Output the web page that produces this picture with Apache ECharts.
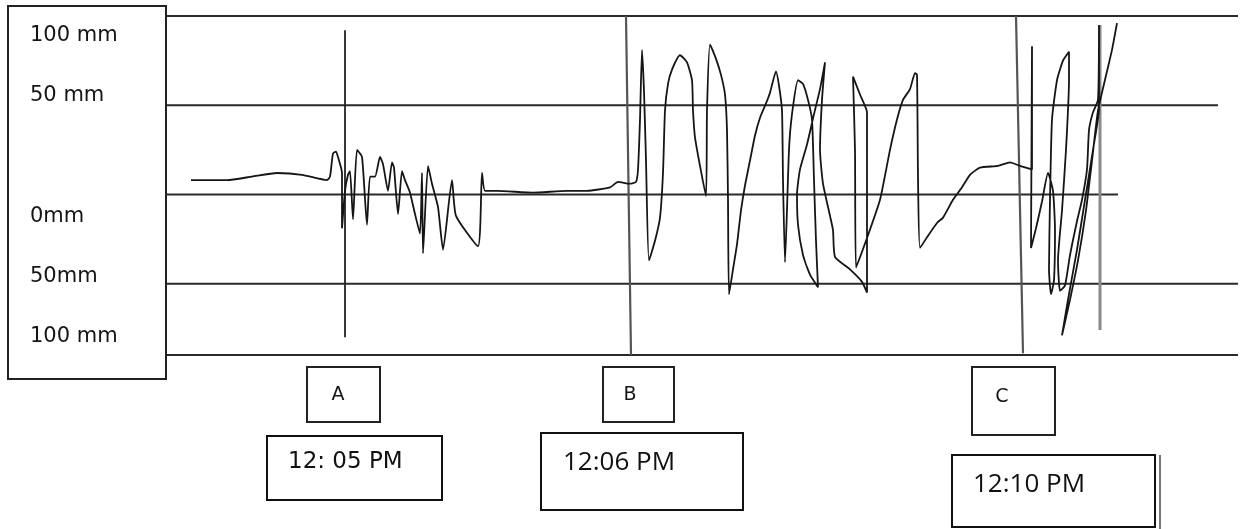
<!DOCTYPE html>
<html>
<head>
<meta charset="utf-8">
<script src="https://cdn.jsdelivr.net/npm/echarts@6/dist/echarts.min.js"></script>
<style>
html,body{margin:0;padding:0;background:#fff;}
#chart{width:1244px;height:529px;}
</style>
</head>
<body>
<div id="chart"></div>
<script>
// Scale labels shown in the left box (top to bottom)
const scaleLabels = ['100 mm', '50 mm', '0mm', '50mm', '100 mm'];
// Event markers and times
const eventNames = ['A', 'B', 'C'];
const eventTimes = ['12: 05 PM', '12:06 PM', '12:10 PM'];

// Horizontal reference levels (mm) and where each drawn line ends (time units)
const levelValues = [100, 50, 0, -50, -90];
const levelEnds = [1072, 1052, 952, 1072, 1072];

// Vertical marker lines: [t, mm] for top and bottom ends (A, B, C, right edge)
const markerTop = [[179, 92], [460, 100], [850, 100], [934, 95]];
const markerBottom = [[179, -80], [465, -90], [857, -89], [934, -76]];

// Recorded trace: [time units, displacement mm]
const traceQuiet = [
  [25, 8], [61, 8], [86, 10], [111, 12], [136, 11], [161, 8], [164, 10]
];
const traceA = [
  [167, 23], [170, 24], [172, 21], [176, 12], [176, -19], [179, 2], [182, 11], [184, 13],
  [187, -14], [191, 25], [196, 21], [201, -17], [204, 10], [209, 10], [214, 21], [217, 17],
  [222, 2], [226, 18], [228, 15], [232, -11], [236, 13], [239, 8], [244, 1], [249, -11],
  [254, -22], [256, 12], [257, -33], [262, 16], [266, 6], [272, -7], [277, -31], [286, 8],
  [290, -12], [312, -29], [316, 12], [319, 2]
];
const traceCalm = [
  [331, 2], [367, 1], [401, 2], [421, 2], [444, 4], [452, 7], [464, 6], [470, 7]
];
const traceB = [
  [472, 14], [474, 42], [476, 81], [478, 58], [480, 19], [483, -37], [489, -26], [494, -13],
  [497, 12], [499, 47], [502, 62], [506, 70], [514, 78], [521, 74], [526, 64], [527, 47],
  [529, 32], [534, 16], [540, -1], [541, 47], [544, 84], [550, 76], [555, 67], [559, 56],
  [561, 36], [562, -3], [563, -56], [567, -42], [571, -28], [575, -9], [579, 5], [584, 19],
  [589, 33], [594, 43], [600, 51], [604, 57], [610, 69], [613, 61], [616, 47], [617, 8],
  [619, -38], [623, 25], [626, 45], [632, 64], [637, 62], [642, 53], [646, 42], [648, 8],
  [650, -26], [652, -52], [644, -45], [637, -34], [632, -17], [631, 0], [634, 14], [641, 28],
  [648, 45], [654, 59], [659, 74], [656, 53], [654, 25], [657, 6], [664, -12], [667, -20],
  [669, -35], [684, -42], [696, -49], [701, -55], [701, 46], [694, 56], [687, 66], [689, 25],
  [690, -41], [700, -26], [714, -3], [724, 25], [731, 42], [737, 53], [744, 59], [749, 68],
  [751, 67], [752, 10], [754, -30], [761, -24], [771, -16], [777, -13], [787, -3], [796, 4],
  [804, 11], [814, 15], [832, 16], [844, 18], [854, 16], [866, 14]
];
const traceC = [
  [866, 83], [865, -30], [870, -19], [876, -4], [882, 12], [887, 2], [889, -20], [888, -48],
  [885, -56], [883, -42], [884, -3], [886, 42], [891, 64], [897, 75], [903, 80], [903, 64],
  [900, 25], [896, -9], [892, -37], [894, -54], [899, -51], [904, -34], [911, -15], [916, -3],
  [921, 14], [923, 36], [927, 46], [932, 53], [933, 95], [933, 48], [927, 25], [919, -3],
  [911, -31], [902, -59], [896, -79], [904, -59], [912, -37], [920, -9], [926, 19], [932, 47],
  [941, 69], [946, 81], [951, 96]
];

const trace = [].concat(traceQuiet, traceA, traceCalm, traceB, traceC);

const chart = echarts.init(document.getElementById('chart'), null, {renderer: 'canvas'});

const series = [];
levelValues.forEach(function (v, i) {
  series.push({
    type: 'line', data: [[0, v], [levelEnds[i], v]], symbol: 'none', silent: true,
    lineStyle: {color: '#2a2a2a', width: 2}, z: 1
  });
});
const markerColors = ['#222', '#555', '#555', '#8a8a8a'];
const markerWidths = [1.8, 2.2, 2.2, 3];
markerTop.forEach(function (p, i) {
  series.push({
    type: 'line', data: [p, markerBottom[i]], symbol: 'none', silent: true,
    lineStyle: {color: markerColors[i], width: markerWidths[i]}, z: 2
  });
});
series.push({
  type: 'line', data: trace, symbol: 'none', silent: true, smooth: 0.18,
  lineStyle: {color: '#151515', width: 1.8}, z: 3
});

const labelY = [36, 96, 217, 277, 337];
const graphic = [
  {type: 'rect', shape: {x: 8, y: 6, width: 158, height: 373}, style: {fill: 'none', stroke: '#222', lineWidth: 2}, z: 10}
];
scaleLabels.forEach(function (t, i) {
  graphic.push({type: 'text', x: 30, y: labelY[i], style: {text: t, font: '21px "DejaVu Sans"', fill: '#151515', verticalAlign: 'middle'}, z: 10});
});
// Event letter boxes
const letterBoxes = [[307, 367, 73, 55], [603, 367, 71, 55], [972, 367, 83, 68]];
const letterPos = [[338, 395], [630, 395], [1002, 397]];
eventNames.forEach(function (n, i) {
  const b = letterBoxes[i];
  graphic.push({type: 'rect', shape: {x: b[0], y: b[1], width: b[2], height: b[3]}, style: {fill: 'none', stroke: '#222', lineWidth: 2}, z: 10});
  graphic.push({type: 'text', x: letterPos[i][0], y: letterPos[i][1], style: {text: n, font: '19px "DejaVu Sans"', fill: '#151515', align: 'center', verticalAlign: 'middle'}, z: 10});
});
// Time boxes
const timeBoxes = [[267, 436, 175, 64], [541, 433, 202, 77], [952, 455, 203, 72]];
const timePos = [[288, 462], [563, 463], [973, 485]];
const timeFonts = ['23px "DejaVu Sans"', '26px "Open Sans"', '26px "Open Sans"'];
eventTimes.forEach(function (t, i) {
  const b = timeBoxes[i];
  graphic.push({type: 'rect', shape: {x: b[0], y: b[1], width: b[2], height: b[3]}, style: {fill: 'none', stroke: '#111', lineWidth: 2}, z: 10});
  graphic.push({type: 'text', x: timePos[i][0], y: timePos[i][1], style: {text: t, font: timeFonts[i], fill: '#111', verticalAlign: 'middle'}, z: 10});
});
graphic.push({type: 'line', shape: {x1: 1160, y1: 455, x2: 1160, y2: 529}, style: {stroke: '#777', lineWidth: 2}, z: 10});

chart.setOption({
  animation: false,
  backgroundColor: '#fff',
  grid: {left: 166, right: 6, top: 16, bottom: 174},
  xAxis: {type: 'value', min: 0, max: 1072, show: false},
  yAxis: {type: 'value', min: -90, max: 100, show: false},
  series: series,
  graphic: graphic
});
</script>
</body>
</html>
